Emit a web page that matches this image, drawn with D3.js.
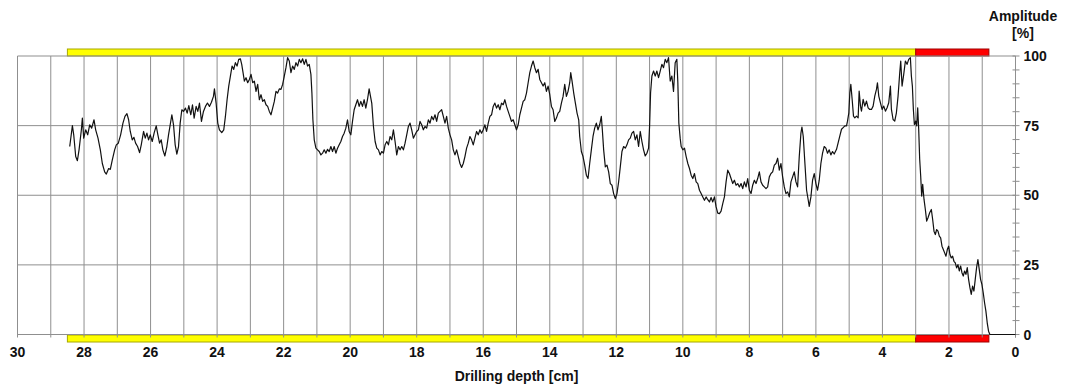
<!DOCTYPE html>
<html>
<head>
<meta charset="utf-8">
<script src="https://cdn.jsdelivr.net/npm/d3@7"></script>
<style>
  html, body { margin: 0; padding: 0; background: #fff; }
  svg { display: block; font-family: "Liberation Sans", Arial, sans-serif; }
</style>
</head>
<body>
<svg id="chart" width="1065" height="385"></svg>
<script>
// Axis values
const depthLabels = [30, 28, 26, 24, 22, 20, 18, 16, 14, 12, 10, 8, 6, 4, 2, 0];
const depthGrid = [30, 29, 28, 27, 26, 25, 24, 23, 22, 21, 20, 19, 18, 17, 16, 15, 14, 13, 12, 11, 10, 9, 8, 7, 6, 5, 4, 3, 2, 1, 0];
const amplitudeLabels = [0, 25, 50, 75, 100];
const amplitudeMinor = [5, 10, 15, 20, 30, 35, 40, 45, 55, 60, 65, 70, 80, 85, 90, 95];

// Drilling zones: [from, to] depth in cm
const woodZone = [28.5, 3.0];
const decayZone = [3.0, 0.8];

// Amplitude trace: [depth cm, amplitude %]
const trace = [
  [28.43,67.5],[28.35,75],[28.31,71.7],[28.25,63.9],[28.2,62.4],[28.15,66.3],[28.08,73.5],[28.05,77.7],
  [28.01,70.5],[27.95,73.5],[27.89,71.7],[27.83,75.3],[27.77,74.1],[27.7,77.1],[27.65,73.5],[27.58,70.5],
  [27.51,66.3],[27.45,61.4],[27.38,58.4],[27.33,57.6],[27.26,59.6],[27.21,59.3],[27.15,62.7],[27.08,66.3],
  [27.03,68.1],[26.97,68.7],[26.9,71.7],[26.83,75.9],[26.77,78.3],[26.71,79.3],[26.66,77.1],[26.61,72.9],
  [26.55,69.9],[26.5,70.8],[26.45,68.7],[26.39,67.5],[26.33,65.3],[26.28,68.1],[26.21,72.9],[26.16,70.5],
  [26.11,72.3],[26.06,69.9],[26.01,71.7],[25.95,69.3],[25.89,72.5],[25.83,74.9],[25.78,71.7],[25.73,68.7],
  [25.68,69.9],[25.63,66.3],[25.57,64.1],[25.51,67.5],[25.46,71.7],[25.41,75.3],[25.36,78.9],[25.31,75.3],
  [25.26,68.1],[25.21,64.8],[25.16,67.5],[25.11,75.9],[25.06,80.7],[25.01,80.1],[24.95,81.3],[24.9,79.5],
  [24.85,82.2],[24.79,78.9],[24.74,82.5],[24.69,77.7],[24.63,81.9],[24.58,80.1],[24.53,83.1],[24.47,76.5],
  [24.41,80.1],[24.35,81.9],[24.29,83.1],[24.23,81.9],[24.17,83.4],[24.11,85.5],[24.08,88.2],
  [24.03,83.1],[23.98,75.9],[23.93,73.5],[23.86,72.5],[23.8,73.5],[23.75,78.3],[23.7,84.3],[23.65,89.2],
  [23.6,92.8],[23.55,96.4],[23.5,95.2],[23.45,97.6],[23.4,96.4],[23.35,98.8],[23.3,99],[23.26,97],
  [23.22,94],[23.18,91],[23.13,92.2],[23.08,90.4],[23.03,91.6],[22.98,93.4],[22.93,90.4],[22.88,91],
  [22.83,87.3],[22.78,89.8],[22.73,84.3],[22.68,86.1],[22.63,83.7],[22.58,84.3],[22.53,82.5],[22.48,81.9],
  [22.43,80.1],[22.38,78.9],[22.33,81.3],[22.28,83.7],[22.23,87.3],[22.18,86.7],[22.13,88.2],[22.08,88],
  [22.03,89.8],[21.98,92.8],[21.93,95.8],[21.88,99.4],[21.83,98.2],[21.78,94],[21.73,96.4],[21.68,95.2],
  [21.63,97.6],[21.58,96.4],[21.53,98.8],[21.48,97.6],[21.43,99],[21.38,97],[21.33,98.8],[21.28,96.4],
  [21.23,97],[21.18,93.4],[21.15,86.7],[21.12,77.1],[21.08,69.9],[21.03,66.9],[20.98,66.3],[20.93,65.7],
  [20.88,64.5],[20.83,65.1],[20.78,66.3],[20.73,65.1],[20.68,66.5],[20.63,65.7],[20.58,67.5],[20.53,65.7],
  [20.48,67.5],[20.43,65.1],[20.38,66.9],[20.33,68.1],[20.28,69.3],[20.23,71.1],[20.18,72.3],[20.13,74.1],
  [20.08,77.1],[20.03,72.9],[19.98,71.7],[19.93,76.5],[19.88,80.7],[19.83,82.5],[19.78,84.3],[19.73,81.9],
  [19.68,83.7],[19.63,81.9],[19.58,84.3],[19.53,81.3],[19.48,84.3],[19.43,88.2],
  [19.35,83],[19.3,74.7],[19.25,69.3],[19.2,66.9],[19.15,66.3],[19.1,64.5],[19.05,65.7],[19.0,65.1],
  [18.95,68.1],[18.9,69.3],[18.85,68.1],[18.8,71.1],[18.75,69.9],[18.7,73.5],[18.65,69.3],[18.6,64.5],
  [18.55,67.5],[18.5,66.3],[18.45,67.5],[18.4,66.3],[18.35,68.7],[18.3,71.7],[18.25,74.7],[18.2,75.9],
  [18.15,73.5],[18.1,70.5],[18.05,71.7],[18.0,72.9],[17.95,73.5],[17.9,76.5],[17.85,75.3],[17.8,73.5],
  [17.75,74.7],[17.7,74.1],[17.65,77.1],[17.6,75.9],[17.55,78.3],[17.5,77.1],[17.45,78.9],[17.4,76.5],
  [17.35,79.5],[17.3,80.1],[17.25,80.7],[17.2,78.3],[17.15,75.9],[17.1,78.3],[17.05,74.1],[17.0,71.7],
  [16.95,69.9],[16.9,66.3],[16.85,64.5],[16.8,66.3],[16.75,63.9],[16.7,61.4],[16.65,60],[16.6,61.4],
  [16.55,63.9],[16.5,66.9],[16.45,68.7],[16.4,71.1],[16.35,69.9],[16.3,68.1],[16.25,70.5],[16.2,72.9],
  [16.15,71.7],[16.1,73.5],[16.05,72.3],[16.0,73.5],[15.95,75.3],[15.9,72.9],[15.85,75.9],[15.8,78.3],
  [15.75,78.9],[15.7,81.9],[15.65,83.1],[15.6,81.3],[15.55,82.5],[15.5,80.7],[15.45,83.1],[15.4,82.5],
  [15.35,84.3],[15.3,81.9],[15.25,80.1],[15.2,78.3],[15.15,76.5],[15.1,77.1],[15.05,75.3],[15.0,73.5],
  [14.95,75.3],[14.9,78.9],[14.85,81.3],[14.8,83.7],
  [14.75,84.3],[14.7,86.7],[14.65,90.4],[14.6,94],[14.55,96.4],[14.5,98.2],[14.45,95.8],[14.4,94],
  [14.35,95.2],[14.3,91.6],[14.25,90.4],[14.2,89.2],[14.15,90.4],[14.1,87.3],[14.05,89.2],[14.0,86.1],
  [13.95,81.9],[13.9,80.7],[13.85,76.5],[13.8,77.7],[13.75,79.5],[13.7,80.1],[13.65,83.1],[13.6,85.5],
  [13.55,89.8],[13.5,85.5],[13.45,87.3],[13.4,90.4],[13.37,94],[13.33,91],[13.28,86.7],[13.23,83.1],
  [13.18,79.5],[13.13,77.1],[13.1,71.1],[13.05,65.7],[13.0,63.9],[12.95,60.8],[12.9,57.2],[12.85,56],
  [12.8,61.4],[12.75,66.3],[12.7,71.1],[12.65,74.1],[12.6,75.9],[12.55,73.5],[12.5,75.3],[12.45,78.3],
  [12.42,73.5],[12.38,66.3],[12.33,60.2],[12.28,60.8],[12.23,58.4],[12.18,54.2],[12.13,53.6],[12.08,50.6],
  [12.03,48.8],[11.98,50.6],[11.93,54.8],[11.88,60.2],[11.83,65.7],[11.78,67.5],[11.73,66.9],[11.68,68.1],
  [11.63,69.9],[11.58,70.5],[11.53,72.3],[11.48,72.9],[11.43,69.9],[11.38,71.7],[11.33,67.5],[11.28,72.9],
  [11.23,69.3],[11.18,66.3],[11.13,64.1],[11.08,65.1],[11.03,66.9],[11.0,74.7],[10.97,86.7],[10.93,92.8],
  [10.88,94.6],[10.83,92.8],[10.78,94.6],[10.73,92.2],[10.68,94.6],[10.63,97],[10.58,95.8],[10.53,98.8],
  [10.48,97.6],[10.43,99.4],[10.38,91],[10.33,92.8],[10.28,87.3],[10.23,97.6],[10.18,98.8],[10.15,90.4],
  [10.12,75.9],[10.08,70.5],
  [10.05,67.5],[10.0,66.3],[9.95,66.9],[9.9,63.9],[9.85,61.4],[9.8,59.6],[9.75,57.2],[9.7,56],
  [9.65,57.8],[9.6,54.8],[9.55,54.2],[9.5,51.8],[9.45,50.6],[9.4,49.4],[9.35,48.2],[9.3,49.4],
  [9.25,48.4],[9.2,47.6],[9.15,49.2],[9.1,47.6],[9.05,49.4],[9.0,45.8],[8.95,43.6],[8.9,43.4],
  [8.85,44.3],[8.8,47],[8.75,49.4],[8.7,54.8],[8.65,59],[8.6,57.8],[8.55,56],[8.5,54.2],
  [8.45,55.4],[8.4,53.6],[8.35,54.2],[8.3,53],[8.25,54.2],[8.2,52.4],[8.15,54.8],[8.1,53],
  [8.05,56],[8.0,51.8],[7.95,50.6],[7.9,53.6],[7.85,55.4],[7.8,54.2],[7.75,56],[7.7,58.4],
  [7.65,54.8],[7.6,53.6],[7.55,53],[7.5,52.4],[7.45,53],[7.4,56.6],[7.35,57.8],[7.3,58.4],
  [7.25,60.8],[7.2,61.4],[7.15,63.3],[7.1,59],[7.05,61.4],[7.0,56.6],[6.95,53],[6.9,50.6],
  [6.85,51.2],[6.8,49.4],[6.75,54.8],[6.7,56.6],[6.65,58.4],[6.6,54.8],[6.55,53],[6.5,63.9],
  [6.45,72.3],[6.42,74.5],[6.38,71.1],[6.33,61.4],[6.28,51.8],[6.23,48.2],[6.2,46],[6.15,49.4],
  [6.1,55.4],[6.05,57.8],[6.0,54.2],[5.95,51.8],[5.9,55.4],[5.85,61.4],[5.8,65.1],[5.75,67.5],
  [5.7,66.9],[5.65,65.1],[5.6,66.3],[5.55,64.5],[5.5,65.7],[5.45,64.8],
  [5.38,66.5],[5.33,68.9],[5.28,71.3],[5.23,73.7],[5.18,74.3],[5.13,74.9],[5.08,74.9],[5.05,76.6],
  [5.01,79.6],[4.98,86.8],[4.95,89.8],[4.91,84.4],[4.87,78.4],[4.83,77.8],[4.78,78.4],[4.73,77.8],
  [4.7,87.4],[4.66,82],[4.63,80.2],[4.58,84.4],[4.53,82],[4.48,83.8],[4.43,81.4],[4.38,80.8],
  [4.33,80.8],[4.28,82],[4.23,85.6],[4.18,88],[4.15,90.4],[4.11,85.6],[4.06,83.2],[4.01,80.8],
  [3.96,82],[3.91,80.2],[3.86,81.4],[3.81,83.2],[3.76,89.2],[3.73,80.8],[3.68,77.2],[3.63,76.6],
  [3.58,79.6],[3.53,85.6],[3.48,94],[3.45,98.2],[3.41,89.2],[3.36,93.4],[3.31,98.2],[3.26,97],
  [3.21,98.8],[3.16,99.4],[3.13,92.8],[3.1,89.2],[3.07,80.8],[3.04,75.4],[3.0,76.6],[2.97,74.9],
  [2.94,81.4],[2.91,73.7],[2.88,62.9],[2.85,56.9],[2.82,49.7],[2.79,53.9],[2.75,48.5],[2.71,44.9],
  [2.67,40.7],[2.63,41.9],[2.58,43.7],[2.53,44.9],[2.49,41.3],[2.45,37.1],[2.41,35.9],[2.37,37.7],
  [2.33,37.1],[2.29,35.3],[2.25,34.7],[2.21,31.7],[2.17,30.5],[2.13,29.3],[2.09,28.1],[2.05,30.5],
  [2.01,31.7],[1.97,28.7],[1.93,27.5],[1.89,28.1],[1.85,26.3],[1.81,25.7],[1.77,23.9],[1.73,25.1],
  [1.69,22.8],[1.65,24.6],[1.61,22.2],[1.57,21],[1.53,22.8],[1.49,21.6],[1.45,24],[1.41,19.8],
  [1.37,16.8],[1.33,14.4],[1.29,17.4],[1.25,15.6],[1.21,19.8],[1.17,24],[1.13,26.9],[1.09,23.4],
  [1.05,19.8],[1.01,18],[0.97,15],[0.93,11.4],[0.89,8.4],[0.85,4.2],[0.81,1.2],[0.77,0],
  [0,0]
];

const svg = d3.select("#chart");

const x = d3.scaleLinear().domain([30, 0]).range([17.5, 1015.5]);
const y = d3.scaleLinear().domain([0, 100]).range([334.5, 56]);

const gridColor = "#8f8f8f";
const barH = 7;

// Zone bars above and below the plot
const zones = [
  { range: woodZone, fill: "#ffff00", stroke: "#a8a800" },
  { range: decayZone, fill: "#ff0000", stroke: "#a00000" }
];
const bars = svg.append("g");
zones.forEach(z => {
  const x0 = x(z.range[0]), x1 = x(z.range[1]);
  bars.append("rect")
    .attr("x", x0).attr("y", y(100) - barH)
    .attr("width", x1 - x0).attr("height", barH)
    .attr("fill", z.fill).attr("stroke", z.stroke).attr("stroke-width", 1);
  bars.append("rect")
    .attr("x", x0).attr("y", y(0) + 0.5)
    .attr("width", x1 - x0).attr("height", barH)
    .attr("fill", z.fill).attr("stroke", z.stroke).attr("stroke-width", 1);
});

// Grid
const grid = svg.append("g").attr("stroke", gridColor).attr("stroke-width", 1);
grid.selectAll("line.v").data(depthGrid).join("line")
  .attr("class", "v")
  .attr("x1", d => x(d)).attr("x2", d => x(d))
  .attr("y1", y(100)).attr("y2", y(0) + 3);
grid.selectAll("line.h").data(amplitudeLabels).join("line")
  .attr("class", "h")
  .attr("x1", x(30)).attr("x2", x(0))
  .attr("y1", d => y(d)).attr("y2", d => y(d));

// Right amplitude axis
const axis = svg.append("g").attr("stroke", gridColor).attr("stroke-width", 1);
axis.append("line")
  .attr("x1", x(0)).attr("x2", x(0))
  .attr("y1", y(100)).attr("y2", y(0) + 3);
axis.selectAll("line.t").data(amplitudeLabels.concat(amplitudeMinor)).join("line")
  .attr("class", "t")
  .attr("x1", x(0) - 3).attr("x2", x(0) + 4)
  .attr("y1", d => y(d)).attr("y2", d => y(d));

// Amplitude trace
const line = d3.line().x(d => x(d[0])).y(d => y(d[1]));
svg.append("path")
  .datum(trace)
  .attr("d", line)
  .attr("fill", "none")
  .attr("stroke", "#111")
  .attr("stroke-width", 1.2)
  .attr("stroke-linejoin", "round");

// Labels
const labels = svg.append("g")
  .attr("font-size", 14).attr("font-weight", "bold").attr("fill", "#111");

labels.selectAll("text.xl").data(depthLabels).join("text")
  .attr("class", "xl")
  .attr("x", d => x(d)).attr("y", 357)
  .attr("text-anchor", "middle")
  .text(d => d);

labels.selectAll("text.yl").data(amplitudeLabels).join("text")
  .attr("class", "yl")
  .attr("x", x(0) + 8).attr("y", d => y(d) + 5)
  .attr("text-anchor", "start")
  .text(d => d);

labels.append("text")
  .attr("x", (x(30) + x(0)) / 2).attr("y", 381)
  .attr("text-anchor", "middle")
  .text("Drilling depth [cm]");

labels.append("text")
  .attr("x", 1023).attr("y", 21)
  .attr("text-anchor", "middle")
  .text("Amplitude");
labels.append("text")
  .attr("x", 1023).attr("y", 38)
  .attr("text-anchor", "middle")
  .text("[%]");
</script>
</body>
</html>
